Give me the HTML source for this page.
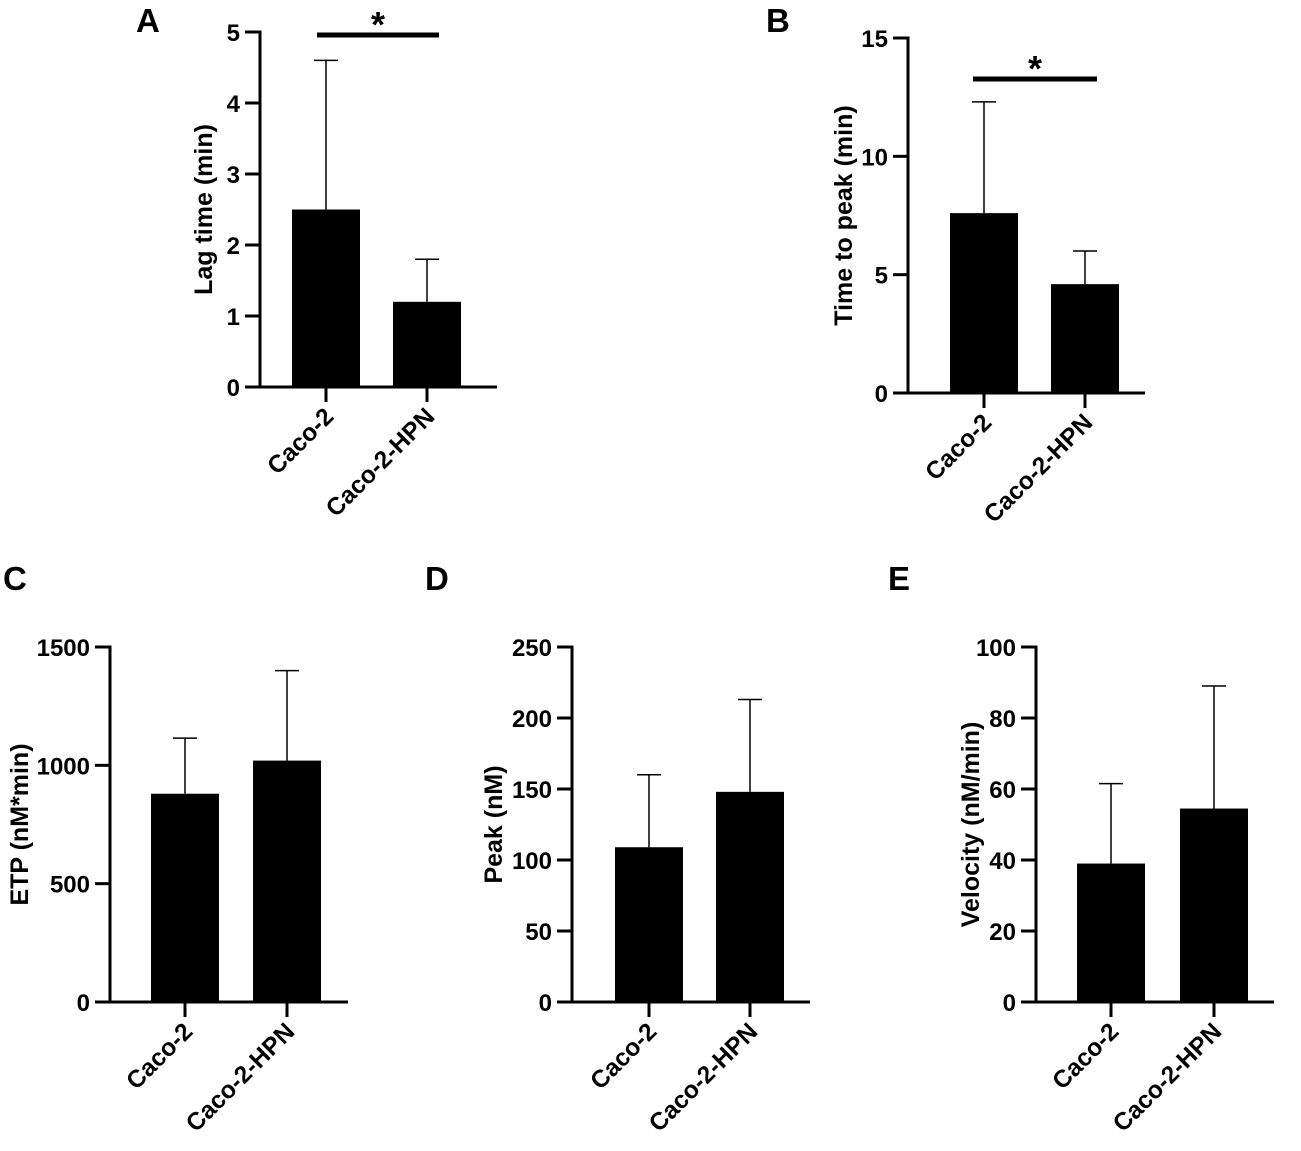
<!DOCTYPE html>
<html><head><meta charset="utf-8"><style>
html,body{margin:0;padding:0;background:#fff}
svg{display:block;font-family:"Liberation Sans",Arial,sans-serif;font-weight:bold}
</style></head><body>
<svg id="fig" width="1301" height="1151" viewBox="0 0 1301 1151"></svg>
<script>
const categories = ["Caco-2", "Caco-2-HPN"];
const lagMeans = [2.5, 1.2];
const lagErrs = [4.6, 1.8];
const ttpMeans = [7.6, 4.6];
const ttpErrs = [12.3, 6.0];
const etpMeans = [880, 1020];
const etpErrs = [1115, 1400];
const peakMeans = [109, 148];
const peakErrs = [160, 213];
const velMeans = [39, 54.5];
const velErrs = [61.5, 89];
const lagTicks = [0, 1, 2, 3, 4, 5];
const ttpTicks = [0, 5, 10, 15];
const etpTicks = [0, 500, 1000, 1500];
const peakTicks = [0, 50, 100, 150, 200, 250];
const velTicks = [0, 20, 40, 60, 80, 100];

const NS = "http://www.w3.org/2000/svg";
const svg = document.getElementById("fig");
function mk(tag, attrs, parent, txt) {
  const e = document.createElementNS(NS, tag);
  for (const k in attrs) e.setAttribute(k, attrs[k]);
  if (txt !== undefined) e.textContent = txt;
  (parent || svg).appendChild(e);
  return e;
}

function panel(cfg) {
  const g = mk("g", {});
  
  
  const ymax = cfg.ticks[cfg.ticks.length - 1];
  const y = v => cfg.y0 - (v / ymax) * (cfg.y0 - cfg.y1);
  const bx = i => cfg.firstCenter + i * cfg.gap;
  const L = mk("text", {x: cfg.lx, y: cfg.ly, "font-size": 33}, g, cfg.letter);
  
  
  cfg.means.forEach((m, i) => {
    const cx = bx(i);
    const e = mk("line", {x1: cx, x2: cx, y1: y(m), y2: y(cfg.errs[i]), stroke: "#000", "stroke-width": 1.5}, g);
    
    
    const c = mk("line", {x1: cx - 12, x2: cx + 12, y1: y(cfg.errs[i]), y2: y(cfg.errs[i]), stroke: "#000", "stroke-width": 1.5}, g);
    
    
    const r = mk("rect", {x: cx - 34, y: y(m), width: 68, height: cfg.y0 - y(m), fill: "#000"}, g);
    
    
  });
  const ya = mk("line", {x1: cfg.ax, x2: cfg.ax, y1: cfg.y1 - 1.5, y2: cfg.y0 + 1.5, stroke: "#000", "stroke-width": 3}, g);
  
  
  const xa = mk("line", {x1: cfg.ax - 15, x2: cfg.xEnd, y1: cfg.y0, y2: cfg.y0, stroke: "#000", "stroke-width": 3}, g);
  
  
  cfg.ticks.forEach(t => {
    const tl = mk("line", {x1: cfg.ax - 15, x2: cfg.ax, y1: y(t), y2: y(t), stroke: "#000", "stroke-width": 3}, g);
    
    
    const tt = mk("text", {x: cfg.ax - 20, y: y(t) + 9, "font-size": 24, "text-anchor": "end"}, g, String(t));
    
    
  });
  categories.forEach((c, i) => {
    const cx = bx(i);
    const tl = mk("line", {x1: cx, x2: cx, y1: cfg.y0, y2: cfg.y0 + 15, stroke: "#000", "stroke-width": 3}, g);
    
    
    const tx = cx + 9, ty = cfg.y0 + 31;
    const t = mk("text", {x: tx, y: ty, "font-size": 24.5, "text-anchor": "end", transform: `rotate(-45 ${tx} ${ty})`}, g, c);
    
    
  });
  const my = (cfg.y0 + cfg.y1) / 2;
  const yt = mk("text", {x: cfg.titleX, y: my, "font-size": 25, "text-anchor": "middle", transform: `rotate(-90 ${cfg.titleX} ${my})`}, g, cfg.title);
  
  
  if (cfg.sig) {
    const s = mk("line", {x1: cfg.sig[0], x2: cfg.sig[1], y1: cfg.sig[2], y2: cfg.sig[2], stroke: "#000", "stroke-width": 5}, g);
    
    
    const st = mk("text", {x: (cfg.sig[0] + cfg.sig[1]) / 2, y: cfg.sig[2] + 2, "font-size": 36, "text-anchor": "middle"}, g, "*");
    
    
  }
}

panel({letter: "A", lx: 136, ly: 32, ax: 260, y0: 387, y1: 32, xEnd: 497, firstCenter: 326, gap: 101,
  means: lagMeans, errs: lagErrs, ticks: lagTicks, title: "Lag time (min)", titleX: 212, sig: [317, 439, 35]});
panel({letter: "B", lx: 766, ly: 32, ax: 908, y0: 393, y1: 38, xEnd: 1145, firstCenter: 984, gap: 101,
  means: ttpMeans, errs: ttpErrs, ticks: ttpTicks, title: "Time to peak (min)", titleX: 852, sig: [973, 1097, 79]});
panel({letter: "C", lx: 3, ly: 590, ax: 110, y0: 1002, y1: 647, xEnd: 348, firstCenter: 185, gap: 102,
  means: etpMeans, errs: etpErrs, ticks: etpTicks, title: "ETP (nM*min)", titleX: 28});
panel({letter: "D", lx: 425, ly: 590, ax: 572, y0: 1002, y1: 647, xEnd: 810, firstCenter: 649, gap: 101,
  means: peakMeans, errs: peakErrs, ticks: peakTicks, title: "Peak (nM)", titleX: 502});
panel({letter: "E", lx: 888, ly: 590, ax: 1036, y0: 1002, y1: 647, xEnd: 1274, firstCenter: 1111, gap: 103,
  means: velMeans, errs: velErrs, ticks: velTicks, title: "Velocity (nM/min)", titleX: 979});
</script>
</body></html>
